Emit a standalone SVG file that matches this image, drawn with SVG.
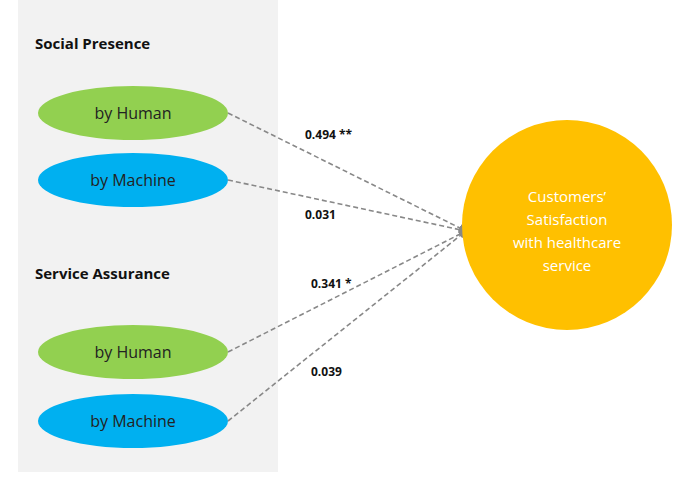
<svg xmlns="http://www.w3.org/2000/svg" width="680" height="480" viewBox="0 0 680 480">
<style>
.t{font-family:"Open Sans","Liberation Sans",sans-serif;}
.h{font-size:15px;font-weight:bold;fill:#111;}
.e{font-size:16px;fill:#222;}
.n{font-size:12px;font-weight:bold;fill:#111;}
.c{stroke:#888;stroke-width:1.6;stroke-dasharray:5,3;fill:none;marker-end:url(#a);}
</style>
<defs><marker id="a" markerWidth="8" markerHeight="8" refX="7" refY="4" orient="auto" markerUnits="userSpaceOnUse"><path d="M0,0 L8,4 L0,8 z" fill="#888"/></marker></defs>
<rect x="18" y="0" width="260" height="472" fill="#f2f2f2"/>
<text class="t h" x="35" y="49">Social Presence</text>
<text class="t h" x="35" y="279">Service Assurance</text>
<g id="c">
<path class="c" d="M228,113 L466,231"/>
<path class="c" d="M228,180 L466,231"/>
<path class="c" d="M228,352 L466,231"/>
<path class="c" d="M228,421 L466,231"/>
</g>
<g id="n1"><ellipse cx="133" cy="113" rx="95" ry="27" fill="#92d050"/><text class="t e" x="133" y="119" text-anchor="middle">by Human</text></g>
<g id="n2"><ellipse cx="133" cy="180" rx="95" ry="27" fill="#00b0f0"/><text class="t e" x="133" y="186" text-anchor="middle">by Machine</text></g>
<g id="n3"><ellipse cx="133" cy="352" rx="95" ry="27" fill="#92d050"/><text class="t e" x="133" y="358" text-anchor="middle">by Human</text></g>
<g id="n4"><ellipse cx="133" cy="421" rx="95" ry="27" fill="#00b0f0"/><text class="t e" x="133" y="427" text-anchor="middle">by Machine</text></g>
<g id="n5"><circle cx="567" cy="225" r="105" fill="#ffc000"/>
<text class="t" font-size="15" fill="#fff" text-anchor="middle"><tspan x="567" y="202">Customers’</tspan><tspan x="567" y="225">Satisfaction</tspan><tspan x="567" y="248">with healthcare</tspan><tspan x="567" y="271">service</tspan></text></g>
<text class="t n" x="305" y="139">0.494 **</text>
<text class="t n" x="305" y="219">0.031</text>
<text class="t n" x="311" y="288">0.341 *</text>
<text class="t n" x="311" y="376">0.039</text>
</svg>
